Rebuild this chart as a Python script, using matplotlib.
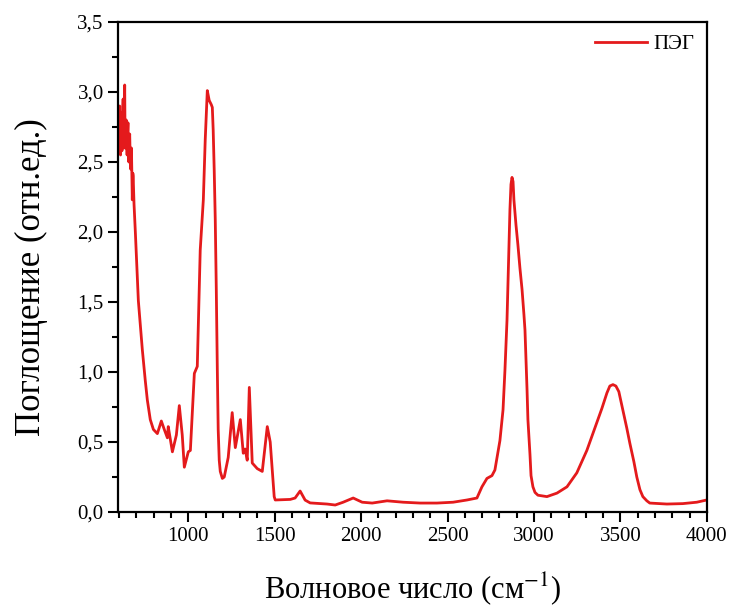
import matplotlib
matplotlib.use("Agg")
import matplotlib.pyplot as plt
from matplotlib.ticker import MultipleLocator, FuncFormatter

plt.rcParams["font.family"] = ["Liberation Serif", "DejaVu Serif"]
plt.rcParams["mathtext.fontset"] = "stix"

# IR spectrum of PEG
wavenumber = [
    597, 600, 603, 606, 608, 611, 613, 616, 618, 621, 623, 626, 628, 630,
    632, 634, 636, 639, 641, 644, 646, 649, 651, 654, 656, 659, 661, 664,
    666, 669, 671, 674, 676, 679, 681, 686, 694, 711, 722, 734, 751, 763,
    780, 798, 821, 844, 861, 879, 884, 908, 931, 948, 965, 977, 1000, 1012,
    1035, 1052, 1069, 1087, 1098, 1110, 1121, 1133, 1139, 1144, 1150, 1156,
    1162, 1168, 1173, 1179, 1185, 1197, 1208, 1231, 1254, 1272, 1301, 1318,
    1329, 1341, 1353, 1370, 1399, 1428, 1457, 1474, 1497, 1503, 1590, 1618,
    1647, 1676, 1705, 1803, 1850, 1896, 1954, 2006, 2064, 2150, 2243, 2341,
    2439, 2532, 2613, 2670, 2699, 2728, 2757, 2774, 2803, 2821, 2832, 2844,
    2855, 2861, 2867, 2873, 2879, 2884, 2896, 2907, 2919, 2931, 2942, 2948,
    2954, 2960, 2965, 2977, 2983, 2994, 3006, 3023, 3075, 3133, 3191, 3248,
    3306, 3364, 3393, 3422, 3439, 3457, 3474, 3491, 3514, 3537, 3555, 3578,
    3595, 3613, 3630, 3653, 3670, 3769, 3861, 3942, 4000,
]
absorbance = [
    2.60, 2.75, 2.90, 2.62, 2.55, 2.78, 2.85, 2.58, 2.65, 2.88, 2.95, 2.68,
    2.60, 2.85, 3.05, 2.70, 2.60, 2.75, 2.80, 2.62, 2.55, 2.72, 2.78, 2.55,
    2.50, 2.66, 2.70, 2.52, 2.45, 2.58, 2.60, 2.40, 2.23, 2.42, 2.40, 2.20,
    1.99, 1.51, 1.34, 1.16, 0.94, 0.80, 0.66, 0.59, 0.56, 0.65, 0.59, 0.53,
    0.61, 0.43, 0.55, 0.76, 0.55, 0.32, 0.43, 0.44, 0.99, 1.04, 1.87, 2.23,
    2.66, 3.01, 2.94, 2.91, 2.89, 2.73, 2.44, 2.09, 1.59, 1.01, 0.59, 0.37,
    0.29, 0.24, 0.25, 0.39, 0.71, 0.46, 0.66, 0.42, 0.45, 0.37, 0.89, 0.35,
    0.31, 0.29, 0.61, 0.50, 0.11, 0.086, 0.09, 0.10, 0.15, 0.085, 0.065,
    0.057, 0.05, 0.07, 0.10, 0.07, 0.064, 0.08, 0.07, 0.064, 0.064, 0.07,
    0.086, 0.10, 0.18, 0.24, 0.26, 0.30, 0.51, 0.73, 1.01, 1.37, 1.87, 2.16,
    2.34, 2.39, 2.36, 2.23, 2.05, 1.91, 1.74, 1.59, 1.41, 1.30, 1.09, 0.87,
    0.66, 0.41, 0.26, 0.18, 0.14, 0.12, 0.11, 0.135, 0.18, 0.28, 0.44, 0.64,
    0.74, 0.85, 0.90, 0.91, 0.90, 0.86, 0.73, 0.60, 0.49, 0.36, 0.25, 0.16,
    0.11, 0.08, 0.064, 0.057, 0.06, 0.07, 0.086,
]

fig = plt.figure(figsize=(7.44, 6.11), dpi=100)
ax = fig.add_axes([0.159, 0.162, 0.791, 0.802])

ax.plot(wavenumber, absorbance, color="#e41a1c", linewidth=2, label="ПЭГ")

ax.set_xlim(595, 4000)
ax.set_ylim(0, 3.5)
ax.xaxis.set_major_locator(MultipleLocator(500))
ax.xaxis.set_minor_locator(MultipleLocator(100))
ax.yaxis.set_major_locator(MultipleLocator(0.5))
ax.yaxis.set_minor_locator(MultipleLocator(0.25))
ax.yaxis.set_major_formatter(FuncFormatter(lambda v, p: f"{v:.1f}".replace(".", ",")))
ax.xaxis.set_major_formatter(FuncFormatter(lambda v, p: "" if v < 1000 else f"{v:.0f}"))

ax.tick_params(which="both", direction="out", top=False, right=False, width=1.5, labelsize=15)
ax.tick_params(which="major", length=7)
ax.tick_params(which="minor", length=4)
for s in ax.spines.values():
    s.set_linewidth(1.6)

ax.set_xlabel("Волновое число (см$^{-1}$)", fontsize=22, labelpad=18)
ax.set_ylabel("Поглощение (отн.ед.)", fontsize=25)
ax.yaxis.set_label_coords(-0.12, 0.48)

ax.legend(loc="upper right", frameon=False, fontsize=15, handlelength=2.5,
          borderaxespad=0.2, handletextpad=0.3)

fig.savefig("out.png", dpi=100)
